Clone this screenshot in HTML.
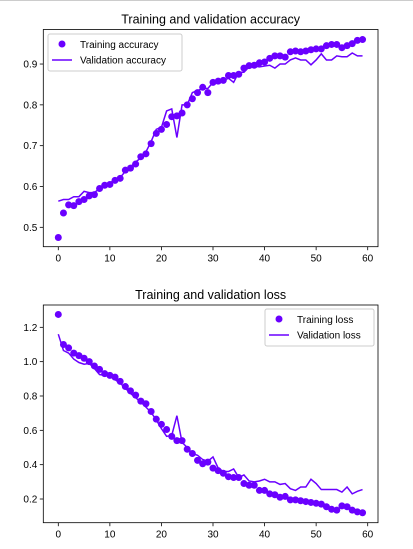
<!DOCTYPE html>
<html><head><meta charset="utf-8"><style>
html,body{margin:0;padding:0;background:#fff;}
svg{display:block;font-family:"Liberation Sans","DejaVu Sans",sans-serif;}
</style></head><body>
<svg id="c" width="413" height="549">
<line x1="0" y1="0.5" x2="413" y2="0.5" stroke="#ccc"/>
</svg>
<script>
const epochs = Array.from({length:60},(_,i)=>i);
const trainAcc=[0.475,0.535,0.555,0.553,0.563,0.568,0.577,0.58,0.595,0.603,0.605,0.615,0.62,0.64,0.645,0.655,0.673,0.68,0.705,0.73,0.74,0.752,0.771,0.773,0.78,0.80,0.815,0.83,0.843,0.83,0.855,0.858,0.86,0.872,0.872,0.875,0.89,0.896,0.897,0.903,0.905,0.914,0.92,0.92,0.917,0.93,0.932,0.93,0.932,0.935,0.937,0.937,0.945,0.948,0.948,0.94,0.945,0.95,0.958,0.96];
const valAcc=[0.564,0.568,0.568,0.575,0.575,0.588,0.585,0.585,0.595,0.603,0.608,0.618,0.622,0.637,0.648,0.66,0.67,0.685,0.71,0.74,0.745,0.785,0.79,0.72,0.8,0.8,0.83,0.835,0.84,0.84,0.855,0.86,0.86,0.865,0.855,0.88,0.88,0.893,0.895,0.893,0.895,0.897,0.89,0.9,0.9,0.91,0.915,0.91,0.91,0.898,0.91,0.925,0.91,0.91,0.92,0.918,0.918,0.927,0.92,0.92];
const trainLoss=[1.275,1.10,1.08,1.05,1.035,1.02,1.0,0.975,0.955,0.93,0.92,0.91,0.885,0.855,0.83,0.805,0.77,0.755,0.71,0.665,0.635,0.605,0.565,0.54,0.54,0.49,0.465,0.425,0.405,0.415,0.38,0.365,0.35,0.33,0.325,0.325,0.29,0.28,0.28,0.25,0.25,0.23,0.225,0.21,0.215,0.195,0.195,0.19,0.185,0.18,0.175,0.17,0.155,0.14,0.135,0.16,0.155,0.135,0.125,0.12];
const valLoss=[1.16,1.065,1.05,1.015,0.995,0.985,0.99,0.96,0.925,0.92,0.915,0.895,0.875,0.845,0.815,0.79,0.765,0.735,0.705,0.66,0.61,0.565,0.57,0.685,0.53,0.5,0.465,0.455,0.43,0.42,0.445,0.38,0.36,0.36,0.375,0.325,0.34,0.305,0.3,0.305,0.315,0.3,0.3,0.285,0.29,0.26,0.25,0.27,0.27,0.315,0.29,0.255,0.255,0.255,0.255,0.24,0.27,0.23,0.245,0.255];
const xTicks=[0,10,20,30,40,50,60];
const accTicks=[0.5,0.6,0.7,0.8,0.9];
const lossTicks=[0.2,0.4,0.6,0.8,1.0,1.2];

const NS="http://www.w3.org/2000/svg";
const svg=document.getElementById('c');
const COLOR="#6a00ff";
function mk(tag,attrs,parent){const e=document.createElementNS(NS,tag);for(const k in attrs)e.setAttribute(k,attrs[k]);(parent||svg).appendChild(e);return e;}

function chart(o){
  const g=mk('g',{});
  
  
  const L=43.3,R=378,T=o.top,B=o.bottom;
  const xs=v=>58.3+(v-0)*(367.7-58.3)/60;
  const ys=v=>B-(v-o.ymin)*(B-T)/(o.ymax-o.ymin);
  const title=mk('text',{x:(L+R)/2,y:T-6,'text-anchor':'middle','font-size':12.5,fill:'#000'},g);
  title.textContent=o.title;
  
  
  xTicks.forEach(t=>{const x=xs(t);
    mk('line',{x1:x,x2:x,y1:B,y2:B+3.5,stroke:'#000','stroke-width':0.8},g);
    const tx=mk('text',{x:x,y:B+15,'text-anchor':'middle','font-size':10,fill:'#000'},g);tx.textContent=t;
    
    });
  o.ticks.forEach(t=>{const y=ys(t);
    mk('line',{x1:L,x2:L-3.5,y1:y,y2:y,stroke:'#000','stroke-width':0.8},g);
    const tx=mk('text',{x:L-6,y:y+3.5,'text-anchor':'end','font-size':10,fill:'#000'},g);tx.textContent=t.toFixed(1);
    
    });
  const pts=epochs.map((e,i)=>xs(e).toFixed(2)+','+ys(o.val[i]).toFixed(2)).join(' ');
  const line=mk('polyline',{points:pts,fill:'none',stroke:COLOR,'stroke-width':1.5},g);
  
  
  epochs.forEach((e,i)=>{const c=mk('circle',{cx:xs(e),cy:ys(o.train[i]),r:3.5,fill:COLOR},g);
    
    });
  mk('rect',{x:L,y:T,width:R-L,height:B-T,fill:'none',stroke:'#000','stroke-width':0.8},g);
  // legend
  const lg=mk('g',{},g);
  
  
  const lx=o.legX,ly=o.legY,lw=o.legW;
  mk('rect',{x:lx,y:ly,width:lw,height:37,fill:'#fff',stroke:'#ccc',rx:2},lg);
  mk('circle',{cx:lx+14,cy:ly+10,r:3.5,fill:COLOR},lg);
  mk('line',{x1:lx+4,x2:lx+24,y1:ly+26,y2:ly+26,stroke:COLOR,'stroke-width':1.5},lg);
  const t1=mk('text',{x:lx+32,y:ly+14,'font-size':10,fill:'#000'},lg);t1.textContent=o.l1;
  const t2=mk('text',{x:lx+32,y:ly+29.5,'font-size':10,fill:'#000'},lg);t2.textContent=o.l2;
}
chart({name:'accuracy-chart',title:'Training and validation accuracy',top:29.5,bottom:246.7,ymin:0.4525,ymax:0.9846,ticks:accTicks,train:trainAcc,val:valAcc,legX:48,legY:34,legW:134,l1:'Training accuracy',l2:'Validation accuracy'});
chart({name:'loss-chart',title:'Training and validation loss',top:305,bottom:522.7,ymin:0.062,ymax:1.33,ticks:lossTicks,train:trainLoss,val:valLoss,legX:265,legY:309,legW:109,l1:'Training loss',l2:'Validation loss'});
</script>
</body></html>
